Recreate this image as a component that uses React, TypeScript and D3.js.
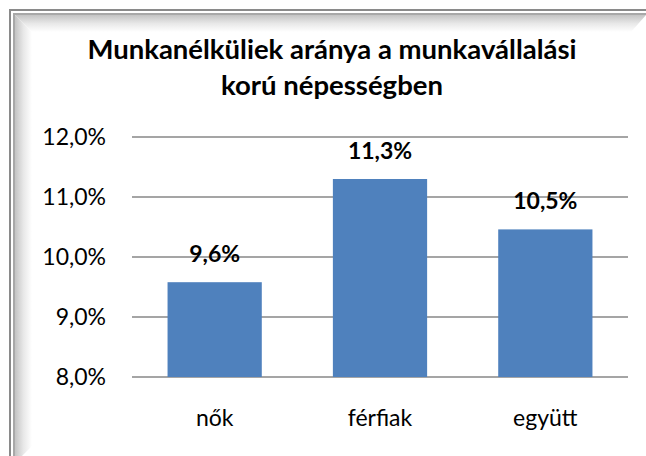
import React from "react";
import * as d3 from "d3";

const categories = ["nők", "férfiak", "együtt"];
const values = [9.58, 11.3, 10.46];
const yTicks = [8, 9, 10, 11, 12];
const titleLines = ["Munkanélküliek aránya a munkavállalási", "korú népességben"];

const W = 646;
const H = 456;
const FONT = "Lato, 'Open Sans', sans-serif";

export default function App() {
  const x = d3.scaleBand<string>().domain(categories).range([132, 628]).paddingInner(0.43).paddingOuter(0.215);
  const y = d3.scaleLinear().domain([8, 12]).range([377, 137]);
  const fmt = (v: number) => v.toFixed(1).replace(".", ",") + "%";

  return (
    <svg width={W} height={H} style={{ position: "absolute", left: 0, top: 0, display: "block", background: "#fff" }}>
      <defs>
        <linearGradient id="gTop" x1="0" y1="0" x2="0" y2="1">
          <stop offset="0" stopColor="#c4c4c4" />
          <stop offset="0.5" stopColor="#e8e8e8" />
          <stop offset="1" stopColor="#ffffff" />
        </linearGradient>
        <linearGradient id="gLeft" x1="0" y1="0" x2="1" y2="0">
          <stop offset="0" stopColor="#c4c4c4" />
          <stop offset="0.5" stopColor="#e8e8e8" />
          <stop offset="1" stopColor="#ffffff" />
        </linearGradient>
      </defs>
      <rect x={0} y={0} width={W} height={H} fill="#fff" />
      {/* frame inner shadow */}
      <polygon points="15,15 646,15 631,32 32,32" fill="url(#gTop)" />
      <polygon points="15,15 32,32 32,446 15,463" fill="url(#gLeft)" />
      {/* frame lines */}
      <rect x={10} y={10} width={660} height={470} fill="none" stroke="#8a8a8a" strokeWidth={2} />
      <rect x={14} y={14} width={652} height={462} fill="none" stroke="#a8a8a8" strokeWidth={2} />

      {/* title */}
      {titleLines.map((t, i) => (
        <text key={i} x={332} y={59 + i * 36} textAnchor="middle" fontFamily={FONT} fontWeight="bold" fontSize={27.5} fill="#000">
          {t}
        </text>
      ))}

      {/* gridlines */}
      {yTicks.map((t) => (
        <line key={t} x1={132} x2={628} y1={y(t)} y2={y(t)} stroke="#878787" strokeWidth={1.5} />
      ))}
      {/* y labels */}
      {yTicks.map((t) => (
        <text key={"l" + t} x={106} y={y(t) + 8} textAnchor="end" fontFamily={FONT} fontSize={23} fill="#000">
          {fmt(t)}
        </text>
      ))}

      {/* bars */}
      {categories.map((c, i) => (
        <rect key={c} x={x(c)} y={y(values[i])} width={x.bandwidth()} height={y(8) - y(values[i])} fill="#4f81bd" />
      ))}
      {categories.map((c, i) => (
        <text key={"v" + c} x={(x(c) as number) + x.bandwidth() / 2} y={y(values[i]) - 20} textAnchor="middle" fontFamily={FONT} fontWeight="bold" fontSize={23} fill="#000">
          {fmt(values[i])}
        </text>
      ))}
      {categories.map((c) => (
        <text key={"c" + c} x={(x(c) as number) + x.bandwidth() / 2} y={426} textAnchor="middle" fontFamily={FONT} fontSize={23} fill="#000">
          {c}
        </text>
      ))}
    </svg>
  );
}
